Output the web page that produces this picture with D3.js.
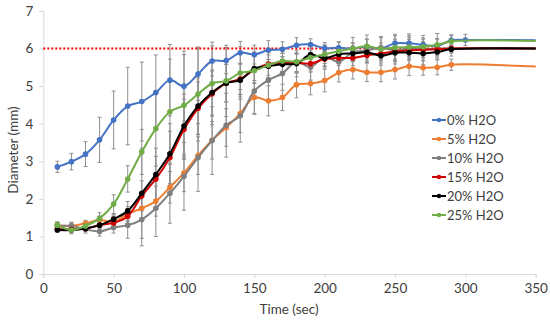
<!DOCTYPE html>
<html><head><meta charset="utf-8">
<script src="https://cdn.jsdelivr.net/npm/d3@7"></script>
<style>body{margin:0;background:#fff}svg{display:block}text{font-family:Lato,"Open Sans",sans-serif;fill:#404040}</style>
</head><body>
<svg id="c" width="550" height="320"></svg>
<script>
const times = [10,20,30,40,50,60,70,80,90,100,110,120,130,140,150,160,170,180,190,200,210,220,230,240,250,260,270,280,290,300];
const endTime = 350;
const seriesNames = ["0% H2O","5% H2O","10% H2O","15% H2O","20% H2O","25% H2O"];
const seriesColors = ["#4472C4","#ED7D31","#7F7F7F","#D00000","#000000","#70AD47"];
const h2o0  = [2.85,2.99,3.19,3.57,4.10,4.47,4.59,4.83,5.16,5.00,5.32,5.67,5.68,5.89,5.84,5.96,5.98,6.09,6.11,6.01,6.02,6.00,6.05,6.00,6.14,6.14,6.10,6.07,6.22,6.23];
const h2o5  = [1.30,1.28,1.35,1.44,1.39,1.60,1.75,1.94,2.31,2.69,3.15,3.56,3.90,4.27,4.70,4.61,4.70,5.04,5.07,5.15,5.36,5.44,5.37,5.37,5.44,5.53,5.49,5.50,5.57,null];
const h2o10 = [1.28,1.28,1.19,1.13,1.24,1.30,1.45,1.75,2.15,2.60,3.10,3.55,3.96,4.21,4.87,5.16,5.34,5.65,5.51,5.78,5.65,5.90,5.95,6.02,5.95,6.00,5.98,6.00,6.00,null];
const h2o15 = [1.19,1.19,1.21,1.30,1.36,1.54,2.08,2.53,3.10,3.85,4.41,4.80,5.08,5.19,5.44,5.59,5.62,5.62,5.60,5.72,5.75,5.75,5.82,5.87,5.92,5.95,5.97,5.98,6.00,null];
const h2o20 = [1.17,1.17,1.21,1.30,1.46,1.68,2.15,2.65,3.20,3.94,4.47,4.83,5.08,5.16,5.47,5.53,5.58,5.60,5.84,5.74,5.85,5.87,5.90,5.81,5.89,5.89,5.87,5.91,5.98,null];
const h2o25 = [1.30,1.17,1.28,1.48,1.86,2.53,3.25,3.87,4.32,4.49,4.79,5.07,5.14,5.35,5.41,5.56,5.67,5.65,5.76,5.85,5.93,6.00,6.06,5.99,6.03,6.04,6.05,6.10,6.19,null];
const endValues = [6.22,5.52,6.00,6.00,6.00,6.20];
const err0  = [0.15,0.22,0.33,0.60,0.77,1.03,1.05,1.00,0.95,0.93,0.70,0.40,0.35,0.30,0.25,0.25,0.20,0.20,0.15,0.15,0.15,0.15,0.20,0.15,0.20,0.20,0.15,0.20,0.15,0.15];
const err5  = [0.08,0.08,0.08,0.10,0.15,0.20,0.30,0.40,0.42,0.50,0.50,0.50,0.50,0.50,0.45,0.40,0.35,0.35,0.30,0.30,0.25,0.25,0.25,0.25,0.25,0.25,0.20,0.20,0.15,0];
const err10 = [0.10,0.10,0.10,0.12,0.15,0.35,0.70,0.75,0.80,0.90,0.90,0.90,0.85,0.70,0.60,0.55,0.45,0.40,0.35,0.30,0.30,0.25,0.30,0.30,0.30,0.30,0.30,0.25,0.20,0];
const err15 = [0.05,0.05,0.05,0.10,0.12,0.20,0.40,0.60,0.70,0.80,0.70,0.60,0.50,0.40,0.35,0.30,0.25,0.25,0.20,0.20,0.20,0.20,0.20,0.20,0.20,0.20,0.20,0.15,0.10,0];
const err20 = [0.05,0.05,0.05,0.10,0.12,0.25,1.20,0.70,0.80,0.85,0.75,0.60,0.50,0.45,0.40,0.30,0.30,0.25,0.25,0.20,0.20,0.20,0.20,0.25,0.30,0.35,0.30,0.20,0.10,0];
const err25 = [0.08,0.10,0.10,0.15,0.25,0.35,0.60,1.00,1.40,1.35,1.25,1.10,0.95,0.70,0.50,0.40,0.35,0.30,0.30,0.25,0.25,0.30,0.30,0.30,0.35,0.35,0.30,0.30,0.15,0];
const targetDiameter = 6;
const xTicks = [0,50,100,150,200,250,300,350];
const yTicks = [0,1,2,3,4,5,6,7];

const values = [h2o0,h2o5,h2o10,h2o15,h2o20,h2o25];
const errs = [err0,err5,err10,err15,err20,err25];

const svg = d3.select("#c");
const x = d3.scaleLinear().domain([0,350]).range([43.3,535.7]);
const y = d3.scaleLinear().domain([0,7]).range([274,11]);
const axisColor = "#D9D9D9";

// axes
const gx = svg.append("g").attr("transform","translate(0,274)")
  .call(d3.axisBottom(x).tickValues(xTicks).tickFormat(d3.format("d")).tickSize(4).tickPadding(5));
const gy = svg.append("g").attr("transform","translate(43.3,0)")
  .call(d3.axisLeft(y).tickValues(yTicks).tickFormat(d3.format("d")).tickSize(4).tickPadding(6));
[gx,gy].forEach(g=>{
  g.select(".domain").attr("stroke",axisColor);
  g.selectAll(".tick line").attr("stroke",axisColor);
  g.selectAll(".tick text").style("font-size","13.5px").attr("fill","#404040").style("font-family","Lato, sans-serif");
});

// axis titles
svg.append("text").attr("x",289).attr("y",314).attr("text-anchor","middle").style("font-size","13.5px").text("Time (sec)");
svg.append("text").attr("transform","translate(18,150) rotate(-90)").attr("text-anchor","middle").style("font-size","13.5px").text("Diameter (mm)");

// error bars
const eb = svg.append("g").attr("stroke","#8f8f8f").attr("stroke-width",1).attr("fill","none");
values.forEach((vals,si)=>{
  vals.forEach((v,i)=>{
    if(v==null) return;
    const e = errs[si][i];
    if(!e) return;
    const cx = x(times[i]);
    eb.append("line").attr("x1",cx).attr("x2",cx).attr("y1",y(v-e)).attr("y2",y(v+e));
    eb.append("line").attr("x1",cx-2).attr("x2",cx+2).attr("y1",y(v-e)).attr("y2",y(v-e));
    eb.append("line").attr("x1",cx-2).attr("x2",cx+2).attr("y1",y(v+e)).attr("y2",y(v+e));
  });
});

// target line
svg.append("line").attr("x1",x(0)).attr("x2",x(350)).attr("y1",y(targetDiameter)).attr("y2",y(targetDiameter))
  .attr("stroke","#FF0000").attr("stroke-width",2).attr("stroke-dasharray","2,2");

// series lines
const line = d3.line().x(d=>x(d[0])).y(d=>y(d[1])).curve(d3.curveCatmullRom.alpha(0.5));
values.forEach((vals,si)=>{
  const pts = times.map((t,i)=>[t,vals[i]]).filter(d=>d[1]!=null);
  pts.push([endTime,endValues[si]]);
  svg.append("path").attr("d",line(pts)).attr("fill","none").attr("stroke",seriesColors[si]).attr("stroke-width",2);
  svg.append("g").selectAll("circle").data(pts.slice(0,-1)).join("circle")
    .attr("cx",d=>x(d[0])).attr("cy",d=>y(d[1])).attr("r",2.8).attr("fill",seriesColors[si]);
});

// legend
const lg = svg.append("g");
seriesNames.forEach((n,i)=>{
  const yy = 120 + i*19;
  lg.append("line").attr("x1",432).attr("x2",446).attr("y1",yy).attr("y2",yy).attr("stroke",seriesColors[i]).attr("stroke-width",2);
  lg.append("circle").attr("cx",439).attr("cy",yy).attr("r",2.2).attr("fill",seriesColors[i]);
  lg.append("text").attr("x",447).attr("y",yy+4.5).style("font-size","13px").text(n);
});
</script>
</body></html>
